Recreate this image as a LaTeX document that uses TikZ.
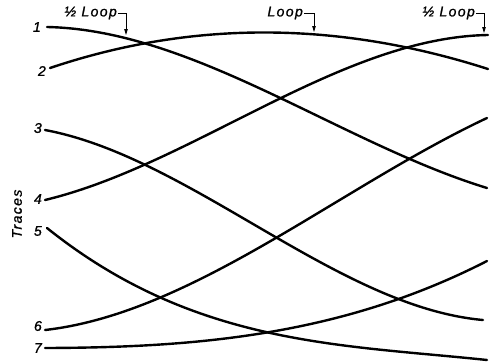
\documentclass[tikz,border=0pt]{standalone}
\usepackage{fontspec}
\setsansfont{Liberation Sans}
\usetikzlibrary{arrows.meta}
\newcommand{\lettering}{\sffamily\itshape\fontsize{14}{16}\selectfont\addfontfeatures{LetterSpace=10,FakeBold=1.2}}

\begin{document}
\begin{tikzpicture}[x=1pt,y=-1pt,
  trace/.style={line width=2.4pt,line cap=round},
  num/.style={font=\lettering,inner sep=1pt,anchor=east},
  tag/.style={font=\lettering,inner sep=1pt,anchor=east},
  pointer/.style={line width=0.9pt,-{Triangle[length=6pt,width=3.5pt]}}]
\useasboundingbox (0,0) rectangle (495,362);
% trace numbers
\node[num] (n1) at (42,27) {1};
\node[num] (n2) at (47,71) {2};
\node[num] (n3) at (43,128) {3};
\node[num] (n4) at (43,199) {4};
\node[num] (n5) at (43,231) {5};
\node[num] (n6) at (43,326) {6};
\node[num] (n7) at (43,348) {7};
\node[font=\lettering,rotate=90] (tr) at (17,214) {Traces};
% start and end of each trace
\coordinate (s1) at (47,27);   \coordinate (e1) at (487,188);
\coordinate (s2) at (50,68);   \coordinate (e2) at (488,69);
\coordinate (s3) at (45,130);  \coordinate (e3) at (483,320);
\coordinate (s4) at (45,200);  \coordinate (e4) at (488,35);
\coordinate (s5) at (47,228);  \coordinate (e5) at (487,360);
\coordinate (s6) at (45,330);  \coordinate (e6) at (487,118);
\coordinate (s7) at (45,348);  \coordinate (e7) at (487,261);
% traces
\draw[trace] (s1) .. controls (193.7,30) and (340.3,143) .. (e1);
\draw[trace] (s2) .. controls (196,18.8) and (342,22.2) .. (e2);
\draw[trace] (s3) .. controls (191,157.4) and (337,306.9) .. (e3);
\draw[trace] (s4) .. controls (192.7,164.5) and (340.3,37.5) .. (e4);
\draw[trace] (s5) .. controls (193.7,345.5) and (340.3,344.5) .. (e5);
\draw[trace] (s6) .. controls (192.3,313.3) and (339.7,187.2) .. (e6);
\draw[trace] (s7) .. controls (192.3,347.5) and (339.7,336.5) .. (e7);
% loop markers
\node[tag] (h1) at (118,13) {½ Loop};
\node[tag] (h2) at (304,13) {Loop};
\node[tag] (h3) at (476,13) {½ Loop};
\coordinate (p1) at (126,35);
\coordinate (p2) at (314,32);
\coordinate (p3) at (484,33);
\draw[pointer] (h1.east) -| (p1);
\draw[pointer] (h2.east) -| (p2);
\draw[pointer] (h3.east) -| (p3);
\end{tikzpicture}
\end{document}
